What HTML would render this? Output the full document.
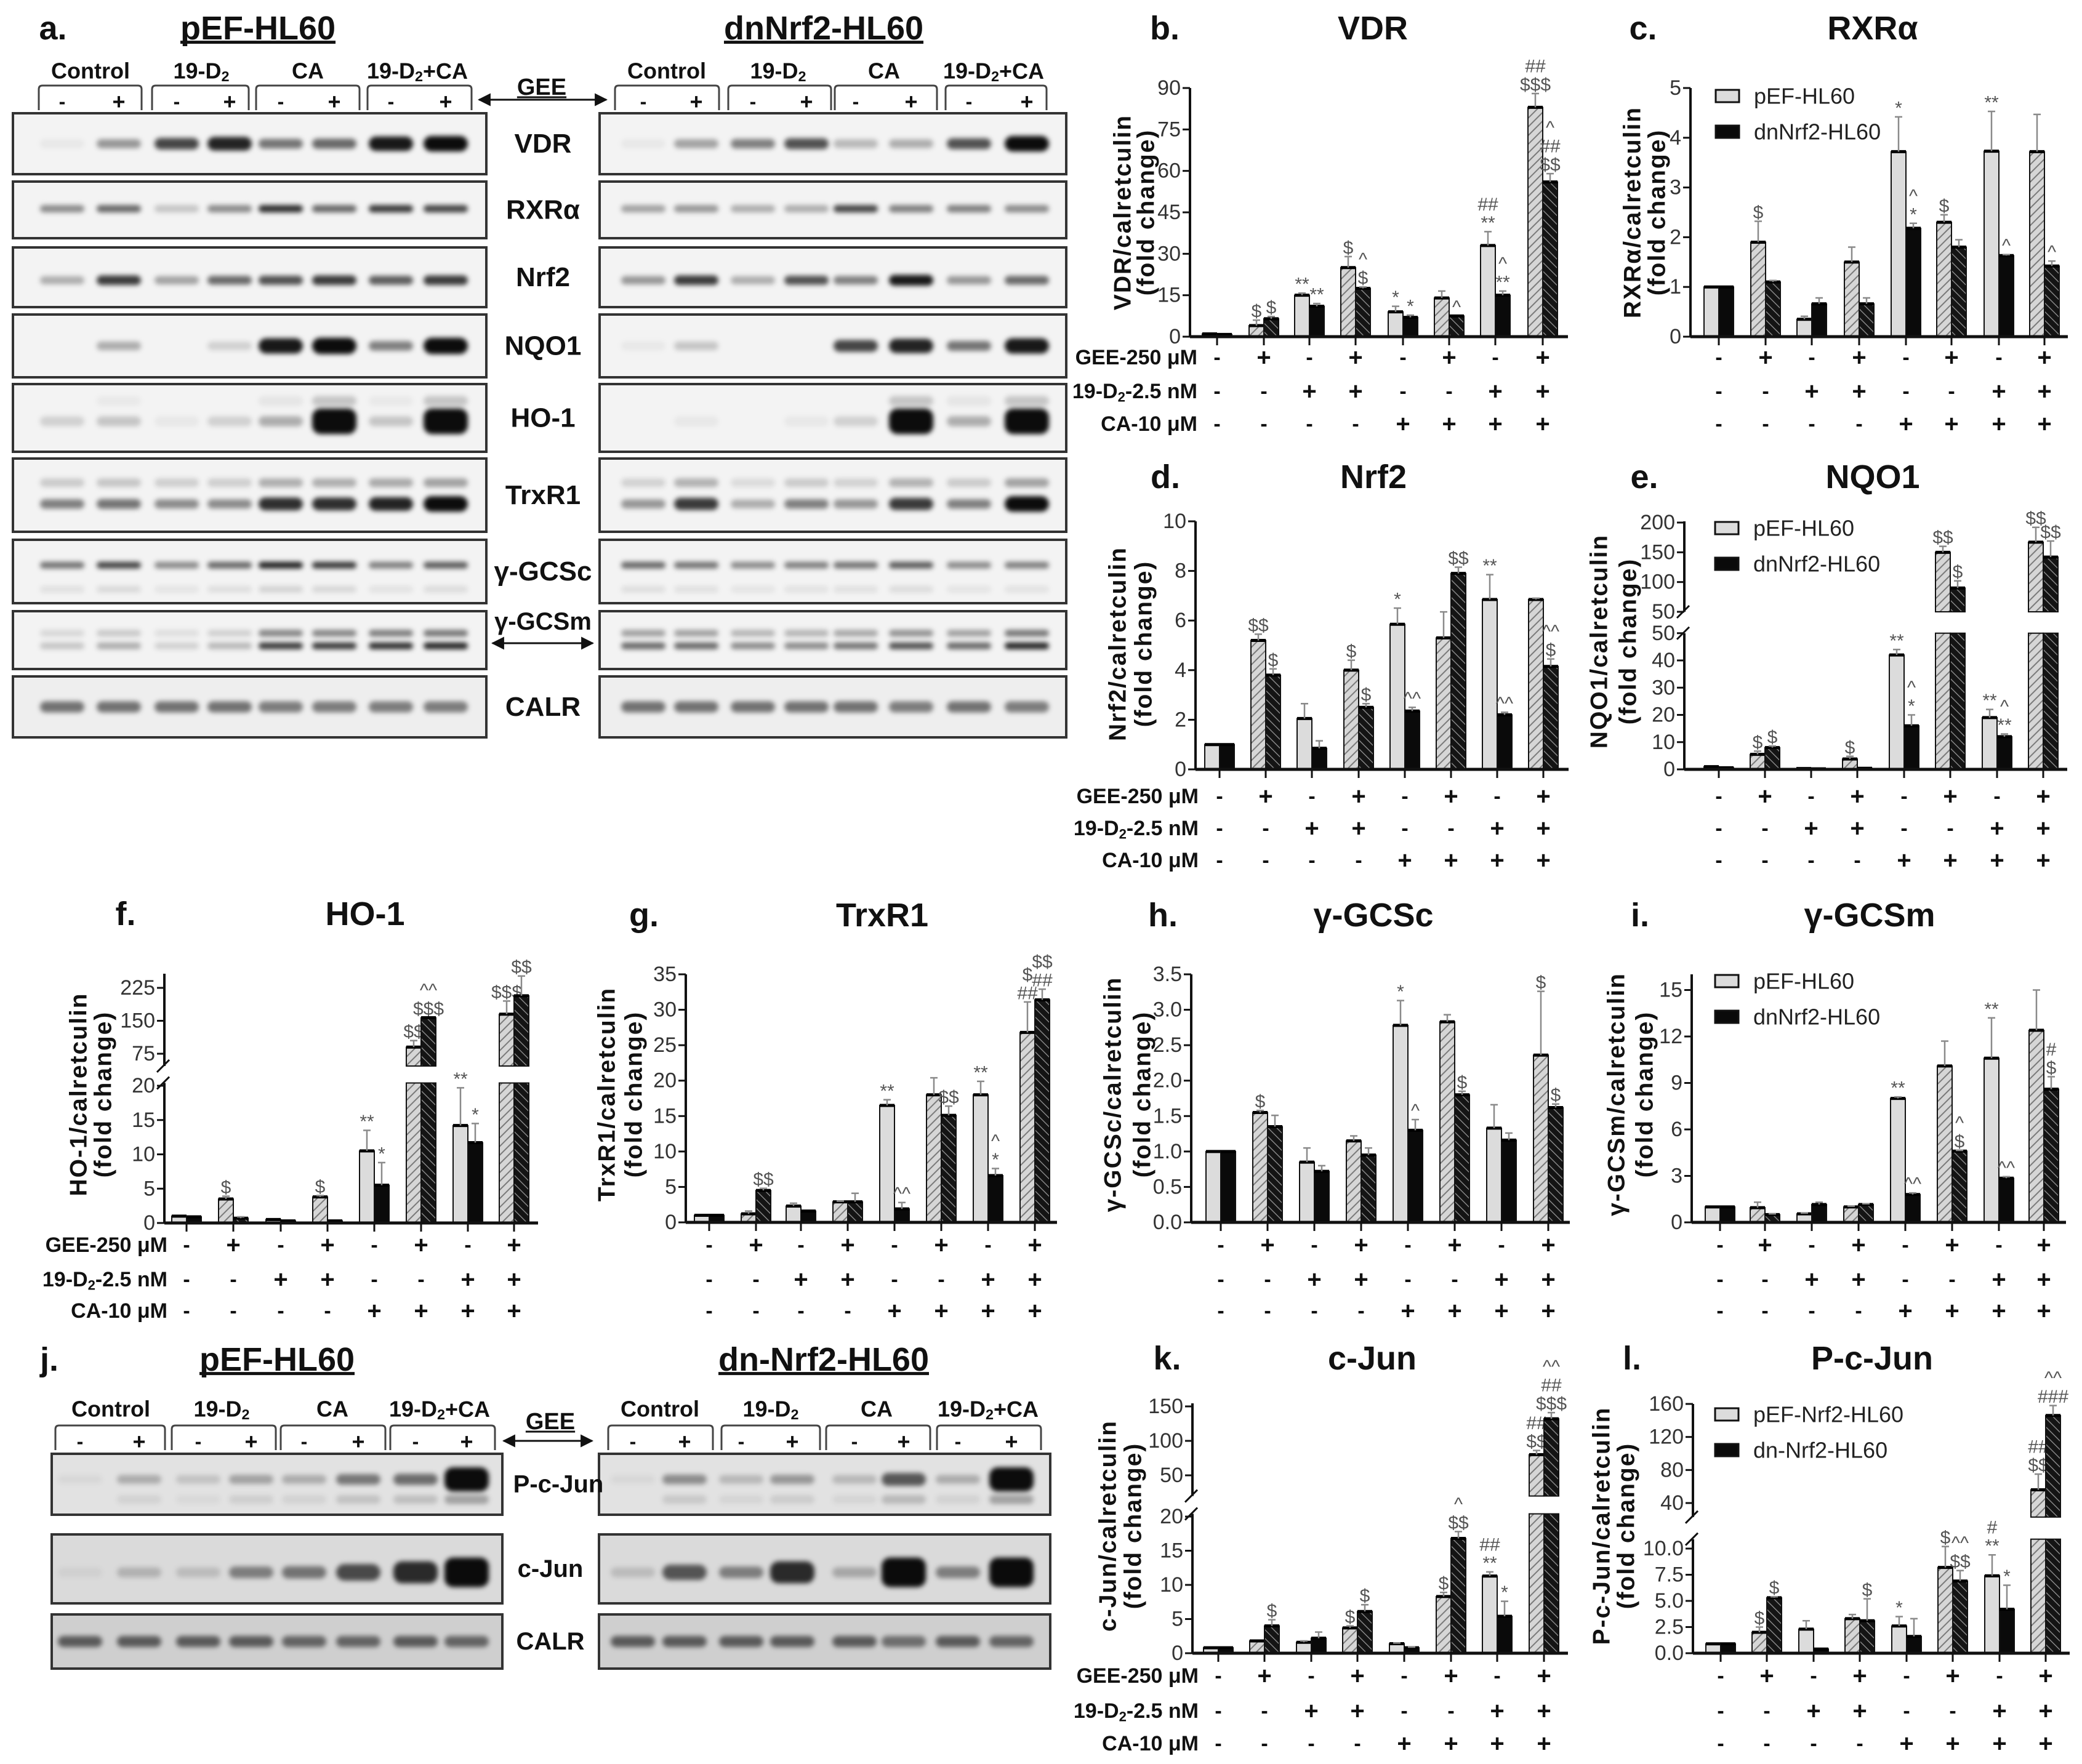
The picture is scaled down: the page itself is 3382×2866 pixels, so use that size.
<!DOCTYPE html>
<html><head><meta charset="utf-8"><title>Figure</title>
<style>
html,body{margin:0;padding:0;background:#fff;}
svg{display:block;}
.n{font-family:"Liberation Sans Narrow","Liberation Sans",sans-serif;}
.w{font-family:"Liberation Sans",sans-serif;}
</style></head>
<body>
<svg id="fig" xmlns="http://www.w3.org/2000/svg" width="3382" height="2866" viewBox="0 0 3382 2866">
<defs>
<pattern id="hp" patternUnits="userSpaceOnUse" width="10" height="10" patternTransform="rotate(45)">
<rect width="10" height="10" fill="#d6d6d6"/><line x1="0" y1="0" x2="0" y2="10" stroke="#7a7a7a" stroke-width="4"/></pattern>
<pattern id="hd" patternUnits="userSpaceOnUse" width="10" height="10" patternTransform="rotate(-45)">
<rect width="10" height="10" fill="#141414"/><line x1="0" y1="0" x2="0" y2="10" stroke="#9a9a9a" stroke-width="2.5"/></pattern>
<filter id="bl" x="-30%" y="-100%" width="160%" height="300%"><feGaussianBlur stdDeviation="4"/></filter>
<marker id="ah" viewBox="0 0 10 10" refX="9" refY="5" markerWidth="7" markerHeight="7" orient="auto-start-reverse"><path d="M0,0 L10,5 L0,10 z" fill="#111"/></marker>
</defs>
</svg>
<script>
// ---------- shared condition rows ----------
const GEE=['-','+','-','+','-','+','-','+'];
const D2=['-','-','+','+','-','-','+','+'];
const CA=['-','-','-','-','+','+','+','+'];

// ---------- chart data ----------
const vdrPEF=[1,4,15,25,9,14,33,83]; const vdrDN=[0.8,6.5,11,17.5,7,7.5,15,56];
const vdrErrP=[0,2,0.8,4,2,2.5,5,5]; const vdrErrD=[0,0.8,1,0.5,0.8,0,1.5,3];
const vdrSigP=['','$','**','$','*','','##\n**','##\n$$$']; const vdrSigD=['','$','**','^\n$','*','^','^\n**','^\n##\n$$'];
const vdrTicks=[0,15,30,45,60,75,90]; const vdrTickLabels=['0','15','30','45','60','75','90'];

const rxrPEF=[1,1.9,0.35,1.5,3.72,2.3,3.73,3.72]; const rxrDN=[1,1.1,0.66,0.66,2.18,1.8,1.63,1.42];
const rxrErrP=[0,0.42,0.06,0.3,0.7,0.15,0.8,0.75]; const rxrErrD=[0,0.03,0.12,0.12,0.1,0.15,0.02,0.1];
const rxrSigP=['','$','','','*','$','**','']; const rxrSigD=['','','','','^\n*','','^','^'];
const rxrTicks=[0,1,2,3,4,5]; const rxrTickLabels=['0','1','2','3','4','5'];

const nrfPEF=[1,5.2,2.05,4,5.85,5.3,6.85,6.85]; const nrfDN=[1,3.8,0.85,2.5,2.35,7.9,2.2,4.15];
const nrfErrP=[0,0.25,0.6,0.4,0.65,1.05,1,0.05]; const nrfErrD=[0,0.25,0.3,0.15,0.15,0.25,0.1,0.3];
const nrfSigP=['','$$','','$','*','','**','']; const nrfSigD=['','$','','$','^^','$$','^^','^^\n$'];
const nrfTicks=[0,2,4,6,8,10]; const nrfTickLabels=['0','2','4','6','8','10'];

const nqoPEF=[1,5.5,0.3,3.8,42,150,19,167]; const nqoDN=[0.6,8,0.2,0.4,16,90,12,142];
const nqoErrP=[0,1.2,0,1,2,10,3,25]; const nqoErrD=[0,0.6,0,0,4,12,1,27];
const nqoSigP=['','$','','$','**','$$','**','$$']; const nqoSigD=['','$','','','^\n*','$','^\n**','$$'];
const nqoTicksLow=[0,10,20,30,40,50]; const nqoTickLabelsLow=['0','10','20','30','40','50'];
const nqoTicksHigh=[50,100,150,200]; const nqoTickLabelsHigh=['50','100','150','200'];

const hoPEF=[1,3.5,0.5,3.8,10.5,90,14.2,165]; const hoDN=[0.9,0.7,0.3,0.3,5.5,157,11.7,207];
const hoErrP=[0,0.4,0,0.2,3,15,5.5,30]; const hoErrD=[0,0.2,0,0,3.3,0,2.8,45];
const hoSigP=['','$','','$','**','$$','**','$$$']; const hoSigD=['','','','','*','^^\n$$$','*','$$'];
const hoTicksLow=[0,5,10,15,20]; const hoTickLabelsLow=['0','5','10','15','20'];
const hoTicksHigh=[75,150,225]; const hoTickLabelsHigh=['75','150','225'];

const trxPEF=[1,1.2,2.3,2.9,16.5,18,18,26.8]; const trxDN=[1,4.5,1.6,2.9,1.9,15.1,6.6,31.4];
const trxErrP=[0,0.4,0.4,0.1,0.8,2.4,1.9,4.3]; const trxErrD=[0,0.3,0,1.2,0.9,1.3,1,1.5];
const trxSigP=['','','','','**','','**','$\n##']; const trxSigD=['','$$','','','^^','$$','^\n*','$$\n##'];
const trxTicks=[0,5,10,15,20,25,30,35]; const trxTickLabels=['0','5','10','15','20','25','30','35'];

const gcscPEF=[1,1.55,0.85,1.15,2.78,2.83,1.33,2.36]; const gcscDN=[1,1.35,0.72,0.95,1.3,1.8,1.16,1.62];
const gcscErrP=[0,0.03,0.2,0.07,0.35,0.1,0.33,0.9]; const gcscErrD=[0,0.16,0.08,0.1,0.15,0.05,0.1,0.05];
const gcscSigP=['','$','','','*','','','$']; const gcscSigD=['','','','','^','$','','$'];
const gcscTicks=[0,0.5,1,1.5,2,2.5,3,3.5]; const gcscTickLabels=['0.0','0.5','1.0','1.5','2.0','2.5','3.0','3.5'];

const gcsmPEF=[1,0.95,0.55,1,8,10.1,10.6,12.4]; const gcsmDN=[1,0.5,1.15,1.15,1.8,4.6,2.85,8.6];
const gcsmErrP=[0,0.35,0.05,0.05,0.1,1.6,2.6,2.6]; const gcsmErrD=[0,0.05,0.15,0.05,0.1,0.05,0.1,0.8];
const gcsmSigP=['','','','','**','','**','']; const gcsmSigD=['','','','','^^','^\n$','^^','#\n$'];
const gcsmTicks=[0,3,6,9,12,15]; const gcsmTickLabels=['0','3','6','9','12','15'];

const cjunPEF=[0.8,1.8,1.6,3.7,1.4,8.3,11.3,80]; const cjunDN=[0.8,4,2.2,6.1,0.8,16.8,5.4,132];
const cjunErrP=[0,0,0.2,0.3,0.1,0.6,0.6,6]; const cjunErrD=[0,0.9,0.9,1,0.1,1,2.2,9];
const cjunSigP=['','','','$','','$','##\n**','##\n$$']; const cjunSigD=['','$','','$','','^\n$$','*','^^\n##\n$$$'];
const cjunTicksLow=[0,5,10,15,20]; const cjunTickLabelsLow=['0','5','10','15','20'];
const cjunTicksHigh=[50,100,150]; const cjunTickLabelsHigh=['50','100','150'];

const pcjPEF=[0.9,2,2.3,3.3,2.6,8.2,7.4,56]; const pcjDN=[0.9,5.3,0.4,3.1,1.6,6.9,4.2,146];
const pcjErrP=[0,0.5,0.8,0.4,0.9,2,2,19]; const pcjErrD=[0,0.1,0,2.1,1.7,1,2.3,12];
const pcjSigP=['','$','','','*','$','#\n**','##\n$$']; const pcjSigD=['','$','','$','','^^\n$$','*','^^\n###'];
const pcjTicksLow=[0,2.5,5,7.5,10]; const pcjTickLabelsLow=['0.0','2.5','5.0','7.5','10.0'];
const pcjTicksHigh=[40,80,120,160]; const pcjTickLabelsHigh=['40','80','120','160'];

// ---------- blot band intensities ----------
const blotRows=['VDR','RXRα','Nrf2','NQO1','HO-1','TrxR1','γ-GCSc','γ-GCSm','CALR'];
const blotPEF=[
 [0.05,0.4,0.75,0.9,0.55,0.6,0.95,1],
 [0.45,0.6,0.2,0.45,0.85,0.6,0.8,0.75],
 [0.3,0.8,0.35,0.6,0.7,0.8,0.65,0.8],
 [0.03,0.3,0.02,0.15,0.95,1,0.5,1],
 [0.15,0.2,0.05,0.15,0.3,1,0.2,1],
 [0.5,0.55,0.45,0.45,0.85,0.85,0.9,1],
 [0.55,0.75,0.45,0.6,0.9,0.8,0.5,0.65],
 [0.2,0.3,0.15,0.25,0.8,0.8,0.85,0.9],
 [0.55,0.55,0.55,0.55,0.5,0.5,0.5,0.5]];
const blotDN=[
 [0.05,0.35,0.5,0.7,0.25,0.3,0.7,1],
 [0.35,0.4,0.3,0.3,0.75,0.5,0.5,0.45],
 [0.4,0.8,0.3,0.7,0.5,0.95,0.4,0.6],
 [0.05,0.2,0,0,0.75,0.9,0.55,0.95],
 [0.02,0.05,0.02,0.05,0.15,1,0.3,1],
 [0.4,0.8,0.3,0.5,0.4,0.8,0.5,1],
 [0.6,0.55,0.45,0.5,0.55,0.65,0.45,0.5],
 [0.6,0.6,0.45,0.45,0.55,0.7,0.6,0.9],
 [0.55,0.55,0.55,0.55,0.55,0.5,0.55,0.5]];
const jRows=['P-c-Jun','c-Jun','CALR'];
const jPEF=[[0.05,0.25,0.15,0.3,0.25,0.5,0.55,1],[0.05,0.2,0.15,0.45,0.5,0.7,0.85,1],[0.6,0.6,0.6,0.6,0.55,0.55,0.6,0.55]];
const jDN=[[0.05,0.4,0.2,0.35,0.2,0.65,0.25,1],[0.15,0.65,0.45,0.85,0.25,1,0.45,1],[0.6,0.6,0.6,0.6,0.6,0.5,0.6,0.55]];

// ---------- helpers ----------
const NS='http://www.w3.org/2000/svg';
const svg=document.getElementById('fig');
function el(tag,attrs,parent,text){const e=document.createElementNS(NS,tag);for(const k in attrs)e.setAttribute(k,attrs[k]);if(text!=null)e.textContent=text;(parent||svg).appendChild(e);return e;}
function txt(parent,x,y,s,size,opts){opts=opts||{};const t=el('text',{x:x,y:y,'font-size':size,'text-anchor':opts.anchor||'middle','dominant-baseline':'central',fill:opts.fill||'#111','font-weight':opts.bold===false?'normal':'bold',class:opts.wide?'w':'n'},parent);
 if(opts.rot)t.setAttribute('transform','rotate(-90 '+x+' '+y+')');
 if(opts.ls)t.setAttribute('letter-spacing',opts.ls);
 const parts=s.split('_');t.appendChild(document.createTextNode(parts[0]));
 if(parts.length>1){el('tspan',{'font-size':size*0.65,dy:size*0.25},t,parts[1][0]);el('tspan',{dy:-size*0.25},t,parts[1].slice(1));}
 return t;}

const BW=24;
function chart(c){
 const g=el('g',{},svg);
 
 
 const P=(s,v)=>s.p0+(v-s.v0)*(s.p1-s.p0)/(s.v1-s.v0);
 const segs=c.segs;const base=P(segs[0],0);
 function yv(v){for(const s of segs){if(v<=s.max)return P(s,Math.max(v,s.min));}return P(segs[segs.length-1],v);}
 c.cx.forEach((x,i)=>{
  [[c.pef,c.ep,c.sp,0],[c.dn,c.ed,c.sd,1]].forEach(([arr,err,sig,k])=>{
   const v=arr[i];const hatch=GEE[i]==='+';
   const fill=k===0?(hatch?'url(#hp)':'#dcdcdc'):(hatch?'url(#hd)':'#0a0a0a');
   const bx=k===0?x-BW:x;
   segs.forEach((s,si)=>{
    const lo=si===0?0:s.min;if(v<=lo)return;
    const hi=Math.min(v,s.max);const ya=P(s,hi),yb=P(s,lo);
    const r=el('rect',{x:bx,y:ya,width:BW,height:Math.max(yb-ya,1),fill:fill,stroke:'#111','stroke-width':2},g);
    
    
    if(hi===v)el('line',{x1:bx,x2:bx+BW,y1:ya,y2:ya,stroke:'#000','stroke-width':5},g);
   });
   let top=yv(v);
   if(err[i]>0){const yt=yv(v+err[i]);
    const eb=el('path',{d:'M'+(bx+BW/2)+','+top+'V'+yt+'M'+(bx+BW/2-6)+','+yt+'H'+(bx+BW/2+6),stroke:'#8a8a8a','stroke-width':2.5,fill:'none'},g);
    
    
    top=yt;}
   if(sig[i]){const lines=sig[i].split('\n');const n=lines.length;
    lines.forEach((ln,j)=>{const t=txt(g,bx+BW/2,top-14-(n-1-j)*30,ln,30,{fill:'#555',bold:false});
     
     });}
  });
 });
 segs.forEach((s,si)=>{
  const y0=P(s,si===0?0:s.min);const y1=si===segs.length-1?c.top:P(s,s.max);
  const ax=el('line',{x1:c.ax,x2:c.ax,y1:y0,y2:y1,stroke:'#111','stroke-width':4},g);
  
  
  s.ticks.forEach((tv,j)=>{const y=P(s,tv);
   el('line',{x1:c.ax-12,x2:c.ax,y1:y,y2:y,stroke:'#111','stroke-width':3},g);
   const t=txt(g,c.ax-15,y,s.labels[j],34,{anchor:'end',fill:'#333',bold:false});
   
   });
  if(segs.length>1){const yb=si===0?P(s,s.max):P(s,s.min);
   el('line',{x1:c.ax-12,y1:yb+10,x2:c.ax+8,y2:yb-10,stroke:'#111','stroke-width':3},g);}
 });
 const xa=el('line',{x1:c.ax,x2:c.xEnd,y1:base,y2:base,stroke:'#111','stroke-width':5},g);
 
 
 c.cx.forEach(x=>el('line',{x1:x,x2:x,y1:base,y2:base+14,stroke:'#111','stroke-width':3},g));
 [GEE,D2,CA].forEach((row,ri)=>{const y=c.rows[ri];
  row.forEach((s,i)=>{const t=txt(g,c.cx[i],y,s==='+'?'+':'-',s==='+'?40:34,{});
   
   });
  if(c.rowLabelX){const lab=['GEE-250 μM','19-D_2-2.5 nM','CA-10 μM'][ri];
   const t=txt(g,c.rowLabelX,y,lab,34,{anchor:'end'});
   
   }
 });
 const tl=txt(g,c.letter[0],c.letter[1],c.letter[2],54,{});
 
 
 const tt=txt(g,c.title[0],c.letter[1],c.title[1],54,{});
 
 
 const yl1=txt(g,c.ylab[0],c.ylab[2],c.ylab[3],39,{rot:true,wide:true,ls:2});
 
 
 const yl2=txt(g,c.ylab[1],c.ylab[2],'(fold change)',39,{rot:true,wide:true,ls:2});
 
 
 if(c.legend){const [lx,ly,n1,n2]=c.legend;
  [[n1,'#dcdcdc',ly],[n2,'#0a0a0a',ly+58]].forEach(([n,f,yy])=>{
   const lg=el('g',{},g);
   
   
   el('rect',{x:lx,y:yy,width:38,height:20,fill:f,stroke:'#111','stroke-width':3},lg);
   txt(lg,lx+62,yy+10,n,36,{anchor:'start',fill:'#222',bold:false});});}
}

const lin=(v0,p0,v1,p1,min,max,ticks,labels)=>({v0,p0,v1,p1,min,max,ticks,labels});
const ROW1=[581,636,689],ROW2=[1294,1346,1398],ROW3=[2023,2079,2130],ROW4=[2723,2780,2833];

chart({name:'vdr',ax:1933,xEnd:2547,top:143,cx:[1977,2053,2127,2202,2279,2354,2429,2506],
 segs:[lin(0,547,90,143,0,95,vdrTicks,vdrTickLabels)],pef:vdrPEF,dn:vdrDN,ep:vdrErrP,ed:vdrErrD,sp:vdrSigP,sd:vdrSigD,
 rows:ROW1,rowLabelX:1945,letter:[1892,46,'b.'],title:[2230,'VDR'],ylab:[1824,1862,345,'VDR/calretculin']});
chart({name:'rxra',ax:2746,xEnd:3359,top:143,cx:[2792,2868,2943,3020,3096,3170,3247,3321],
 segs:[lin(0,547,5,143,0,5.2,rxrTicks,rxrTickLabels)],pef:rxrPEF,dn:rxrDN,ep:rxrErrP,ed:rxrErrD,sp:rxrSigP,sd:rxrSigD,
 rows:ROW1,letter:[2669,46,'c.'],title:[3042,'RXRα'],ylab:[2652,2692,345,'RXRα/calretculin'],legend:[2787,146,'pEF-HL60','dnNrf2-HL60']});
chart({name:'nrf2',ax:1942,xEnd:2548,top:847,cx:[1981,2056,2131,2207,2282,2357,2432,2507],
 segs:[lin(0,1250,10,847,0,10.5,nrfTicks,nrfTickLabels)],pef:nrfPEF,dn:nrfDN,ep:nrfErrP,ed:nrfErrD,sp:nrfSigP,sd:nrfSigD,
 rows:ROW2,rowLabelX:1947,letter:[1893,775,'d.'],title:[2231,'Nrf2'],ylab:[1816,1858,1046,'Nrf2/calretculin']});
chart({name:'nqo1',ax:2736,xEnd:3358,top:847,cx:[2792,2867,2942,3017,3093,3168,3244,3319],
 segs:[lin(0,1250,40,1073,0,50,nqoTicksLow,nqoTickLabelsLow),lin(50,994,200,849,50,210,nqoTicksHigh,nqoTickLabelsHigh)],
 pef:nqoPEF,dn:nqoDN,ep:nqoErrP,ed:nqoErrD,sp:nqoSigP,sd:nqoSigD,
 rows:ROW2,letter:[2671,775,'e.'],title:[3042,'NQO1'],ylab:[2598,2645,1042,'NQO1/calretculin'],legend:[2786,848,'pEF-HL60','dnNrf2-HL60']});
chart({name:'ho1',ax:267,xEnd:874,top:1582,cx:[303,379,456,532,608,684,760,835],
 segs:[lin(0,1987,20,1764,0,20.4,hoTicksLow,hoTickLabelsLow),lin(75,1712,225,1605,47,245,hoTicksHigh,hoTickLabelsHigh)],
 pef:hoPEF,dn:hoDN,ep:hoErrP,ed:hoErrD,sp:hoSigP,sd:hoSigD,
 rows:ROW3,rowLabelX:272,letter:[204,1485,'f.'],title:[593,'HO-1'],ylab:[128,168,1778,'HO-1/calretculin']});
chart({name:'trxr1',ax:1114,xEnd:1717,top:1583,cx:[1152,1228,1301,1377,1453,1529,1605,1681],
 segs:[lin(0,1986,35,1583,0,35,trxTicks,trxTickLabels)],pef:trxPEF,dn:trxDN,ep:trxErrP,ed:trxErrD,sp:trxSigP,sd:trxSigD,
 rows:ROW3,letter:[1046,1487,'g.'],title:[1433,'TrxR1'],ylab:[986,1030,1778,'TrxR1/calretculin']});
chart({name:'gcsc',ax:1935,xEnd:2550,top:1583,cx:[1983,2059,2135,2211,2287,2363,2439,2515],
 segs:[lin(0,1986,3.5,1583,0,3.5,gcscTicks,gcscTickLabels)],pef:gcscPEF,dn:gcscDN,ep:gcscErrP,ed:gcscErrD,sp:gcscSigP,sd:gcscSigD,
 rows:ROW3,letter:[1889,1487,'h.'],title:[2231,'γ-GCSc'],ylab:[1808,1856,1778,'γ-GCSc/calretculin']});
chart({name:'gcsm',ax:2748,xEnd:3356,top:1583,cx:[2794,2867,2943,3019,3095,3171,3247,3320],
 segs:[lin(0,1986,15,1608.5,0,16,gcsmTicks,gcsmTickLabels)],pef:gcsmPEF,dn:gcsmDN,ep:gcsmErrP,ed:gcsmErrD,sp:gcsmSigP,sd:gcsmSigD,
 rows:ROW3,letter:[2664,1487,'i.'],title:[3037,'γ-GCSm'],ylab:[2626,2672,1778,'γ-GCSm/calretculin'],legend:[2786,1584,'pEF-HL60','dnNrf2-HL60']});
chart({name:'cjun',ax:1937,xEnd:2547,top:2280,cx:[1979,2054,2130,2205,2281,2357,2432,2508],
 segs:[lin(0,2686,20,2464,0,20.4,cjunTicksLow,cjunTickLabelsLow),lin(50,2397,150,2285,20,155,cjunTicksHigh,cjunTickLabelsHigh)],
 pef:cjunPEF,dn:cjunDN,ep:cjunErrP,ed:cjunErrD,sp:cjunSigP,sd:cjunSigD,
 rows:ROW4,rowLabelX:1947,letter:[1896,2207,'k.'],title:[2229,'c-Jun'],ylab:[1800,1841,2479,'c-Jun/calretculin']});
chart({name:'pcjun',ax:2750,xEnd:3362,top:2281,cx:[2795,2870,2946,3021,3097,3172,3248,3323],
 segs:[lin(0,2686,10,2516,0,10.9,pcjTicksLow,pcjTickLabelsLow),lin(40,2442,160,2281,23,163,pcjTicksHigh,pcjTickLabelsHigh)],
 pef:pcjPEF,dn:pcjDN,ep:pcjErrP,ed:pcjErrD,sp:pcjSigP,sd:pcjSigD,
 rows:ROW4,letter:[2651,2207,'l.'],title:[3041,'P-c-Jun'],ylab:[2602,2642,2479,'P-c-Jun/calretculin'],legend:[2786,2288,'pEF-Nrf2-HL60','dn-Nrf2-HL60']});

// ---------- blots ----------
function blot(x0,x1,y0,y1,lanes,vals,o,name){
 const g=el('g',{},svg);
 
 
 el('rect',{x:x0,y:y0,width:x1-x0,height:y1-y0,fill:o.bg||'#f3f3f3',stroke:'#333','stroke-width':4},g);
 const h=y1-y0;
 lanes.forEach((cx,i)=>{const v=vals[i];if(v<=0.01)return;
  (o.yf).forEach((yf,k)=>{const vv=k===0?v:v*(o.sec||0.5);if(vv<=0.03)return;
   const bh=(o.bh||14)*(1+(o.grow||0)*Math.pow(vv,3));const bw=o.bw||72;
   el('rect',{x:cx-bw/2,y:y0+h*yf-bh/2,width:bw,height:bh,rx:Math.min(bh/2,14),fill:'#000','fill-opacity':Math.min(1,vv*0.95),filter:'url(#bl)'},g);});
 });
 el('rect',{x:x0,y:y0,width:x1-x0,height:y1-y0,fill:'none',stroke:'#333','stroke-width':4},g);
}
const laneL=[101,193,287,373,456,543,635,724], laneR=[1045,1131,1223,1310,1390,1480,1574,1668];
const rowY=[[184,283],[295,387],[402,499],[511,613],[624,734],[745,864],[877,980],[993,1087],[1099,1198]];
const rowOpt=[{yf:[0.5],bh:14,grow:0.8},{yf:[0.48],bh:12},{yf:[0.55],bh:13,grow:0.4},{yf:[0.5],bh:14,grow:0.9},
 {yf:[0.55,0.25],bh:16,grow:1.6,sec:0.2},{yf:[0.62,0.33],bh:14,grow:0.8,sec:0.35},{yf:[0.4,0.78],bh:11,sec:0.15},{yf:[0.6,0.38],bh:11,sec:0.6},{yf:[0.5],bh:18,bg:'#eeeeee'}];
rowY.forEach((r,i)=>{
 blot(21,790,r[0],r[1],laneL,blotPEF[i],rowOpt[i],'blot-pef-'+i);
 blot(974,1732,r[0],r[1],laneR,blotDN[i],rowOpt[i],'blot-dn-'+i);
 const t=txt(svg,882,i===7?1010:(r[0]+r[1])/2,blotRows[i],i===7?40:44,{});
 
 
});
const jLaneL=[130,226,322,408,494,582,675,758], jLaneR=[1028,1112,1204,1287,1388,1468,1556,1643];
const jY=[[2362,2461],[2493,2605],[2623,2711]];
const jOpt=[{yf:[0.42,0.75],bh:14,grow:1.8,sec:0.3,bg:'#e2e2e2'},{yf:[0.55],bh:16,grow:2,bg:'#dadada'},{yf:[0.5],bh:18,bg:'#cfcfcf'}];
jY.forEach((r,i)=>{
 blot(84,816,r[0],r[1],jLaneL,jPEF[i],jOpt[i],'j-blot-pef-'+i);
 blot(973,1706,r[0],r[1],jLaneR,jDN[i],jOpt[i],'j-blot-dn-'+i);
 const t=txt(svg,i===0?907:894,(r[0]+r[1])/2,jRows[i],40,{});
 
 
});

function header(groupXs,labY,brackets,lanes,signY,name){
 const g=el('g',{},svg);
 
 
 const labs=['Control','19-D_2','CA','19-D_2+CA'];
 groupXs.forEach((x,i)=>txt(g,x,labY,labs[i],36,{}));
 brackets.forEach(([a,b])=>el('path',{d:'M'+a+','+(signY+18)+'V'+(signY-16)+'Q'+a+','+(signY-22)+' '+(a+6)+','+(signY-22)+'H'+(b-6)+'Q'+b+','+(signY-22)+' '+b+','+(signY-16)+'V'+(signY+18),fill:'none',stroke:'#444','stroke-width':3},g));
 lanes.forEach((x,i)=>txt(g,x,signY+4,i%2?'+':'-',i%2?36:32,{}));
}
header([147,327,500,678],115,[[63,230],[247,404],[416,584],[597,766]],laneL,161,'header-pef');
header([1083,1264,1436,1614],115,[[999,1168],[1183,1350],[1356,1522],[1536,1700]],laneR,161,'header-dn');
header([180,360,540,714],2289,[[90,268],[279,448],[456,626],[634,804]],jLaneL,2338,'j-header-pef');
header([1072,1252,1424,1605],2289,[[988,1158],[1172,1332],[1342,1511],[1522,1691]],jLaneR,2338,'j-header-dn');

function arrow(x1,x2,y,name){const a=el('line',{x1:x1,x2:x2,y1:y,y2:y,stroke:'#111','stroke-width':3,'marker-start':'url(#ah)','marker-end':'url(#ah)'},svg);
 
 }
arrow(778,985,162,'gee-arrow');
arrow(800,963,1045,'gcsm-arrow');
arrow(818,962,2341,'j-gee-arrow');
function uText(x,y,s,size,name){const t=txt(svg,x,y,s,size,{});
 
 
 const w=t.getComputedTextLength();el('line',{x1:x-w/2,x2:x+w/2,y1:y+size*0.42,y2:y+size*0.42,stroke:'#111','stroke-width':size>40?5:3},svg);}
uText(880,142,'GEE',38,'gee-label');
uText(894,2310,'GEE',38,'j-gee-label');
uText(419,46,'pEF-HL60',54,'pef-header');
uText(1338,46,'dnNrf2-HL60',54,'dn-header');
uText(450,2209,'pEF-HL60',54,'j-pef-header');
uText(1338,2209,'dn-Nrf2-HL60',54,'j-dn-header');
const la=txt(svg,86,46,'a.',54,{});


const lj=txt(svg,80,2209,'j.',54,{});


</script>
</body></html>
